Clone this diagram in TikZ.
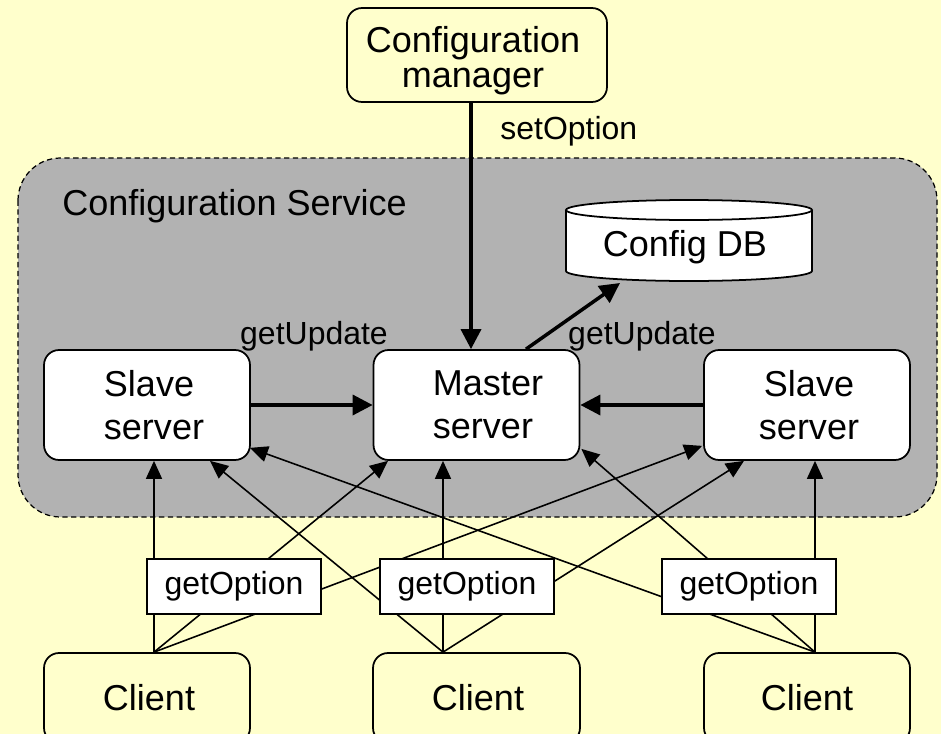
\documentclass[tikz,border=0pt]{standalone}
\usepackage{fontspec}
\setmainfont{Liberation Sans}
\usetikzlibrary{arrows.meta,calc}
\definecolor{paper}{HTML}{FFFFCC}
\definecolor{svcgray}{HTML}{B2B2B2}

\begin{document}
\begin{tikzpicture}[x=0.02cm,y=-0.02cm,
  bigfont/.style={font=\fontsize{20.5}{24.6}\selectfont},
  smallfont/.style={font=\fontsize{18.2}{21}\selectfont},
  box/.style={draw, line width=1pt, rounded corners=0.3cm, align=center, inner sep=0pt, bigfont},
  server/.style={box, fill=white, minimum width=4.12cm, minimum height=2.2cm},
  actor/.style={box, fill=paper},
  opbox/.style={draw, line width=0.9pt, fill=white, minimum width=3.48cm, minimum height=1.1cm, inner sep=0pt, smallfont},
  lbl/.style={inner sep=0pt, smallfont},
  call/.style={line width=0.9pt, -{Triangle[length=0.36cm,width=0.32cm]}},
  bigcall/.style={line width=2pt, -{Triangle[length=0.4cm,width=0.4cm]}},
]
% page
\fill[paper] (0,0) rectangle (941,734);
\useasboundingbox (0,0) rectangle (941,734);

% service region
\draw[line width=0.7pt, dash pattern=on 3pt off 2pt, fill=svcgray, rounded corners=0.85cm]
  (18,158) rectangle (937,517);
\node[lbl, bigfont, anchor=west] (svc) at (62,206) {Configuration Service};

% database cylinder
\draw[line width=1pt, fill=white] (566,210) -- (566,271)
  arc[start angle=180, end angle=360, x radius=2.46cm, y radius=0.2cm] -- (812,210);
\draw[line width=1pt, fill=white] (689,210) ellipse [x radius=2.46cm, y radius=0.2cm];
\node[lbl, bigfont] (db) at (685,247) {Config DB};
\coordinate (dbbot) at (620,283);

% main boxes
\node[actor, minimum width=5.2cm, minimum height=1.88cm] (mgr) at (477,55) {};
\node[align=center, inner sep=0pt, font=\fontsize{20.5}{19.9}\selectfont] (mgrtext) at (473,61) {Configuration\\manager};
\node[server, align=left] (s1) at (147,405) {\hspace*{0.28cm}Slave\\\hspace*{0.28cm}server};
\node[server, align=left] (m)  at (476.5,405) {\hspace*{0.46cm}Master\\\hspace*{0.46cm}server};
\node[server] (s3) at (807,405) {\hspace*{0.08cm}Slave\\\hspace*{0.08cm}server};
\node[actor, minimum width=4.12cm, minimum height=1.8cm] (c1) at (147,698) {\hspace*{0.08cm}Client};
\node[actor, minimum width=4.14cm, minimum height=1.8cm] (c2) at (476.5,698) {\hspace*{0.06cm}Client};
\node[actor, minimum width=4.12cm, minimum height=1.8cm] (c3) at (807,698) {Client};

% update and admin calls
\coordinate (cmx) at (471,0);
\draw[bigcall] (mgr.south -| cmx) -- (m.north -| cmx);
\node[lbl, anchor=west] (setopt) at (500,131) {setOption};
\draw[bigcall] ($(m.north)+(49.5,0)$) -- (dbbot);
\draw[bigcall] (s1.east) -- (m.west);
\draw[bigcall] (s3.west) -- (m.east);
\node[lbl] (gu1) at (314,336) {getUpdate};
\node[lbl] (gu2) at (642,336) {getUpdate};

% client calls
\coordinate (f1) at ($(c1.north)+(7,0)$);
\coordinate (f2) at ($(c2.north)+(-33.5,0)$);
\coordinate (f3) at ($(c3.north)+(8,0)$);
\draw[call] (f1) -- ($(s1.south)+(7,0)$);
\draw[call] (f1) -- ($(m.south)+(-88.5,0)$);
\draw[call] (f1) -- ($(s3.south west)+(-1,-15)$);
\draw[call] (f2) -- ($(s1.south)+(63,0)$);
\draw[call] (f2) -- ($(m.south)+(-33.5,0)$);
\draw[call] (f2) -- ($(s3.south)+(-63,0)$);
\draw[call] (f3) -- ($(s1.south east)+(-1,-13)$);
\draw[call] (f3) -- ($(m.south east)+(1,-12)$);
\draw[call] (f3) -- ($(s3.south)+(8,0)$);

% call labels on the client lines
\node[opbox] (g1) at (234,586.5) {getOption};
\node[opbox] (g2) at (467,586.5) {getOption};
\node[opbox] (g3) at (749,586.5) {getOption};
\end{tikzpicture}
\end{document}
